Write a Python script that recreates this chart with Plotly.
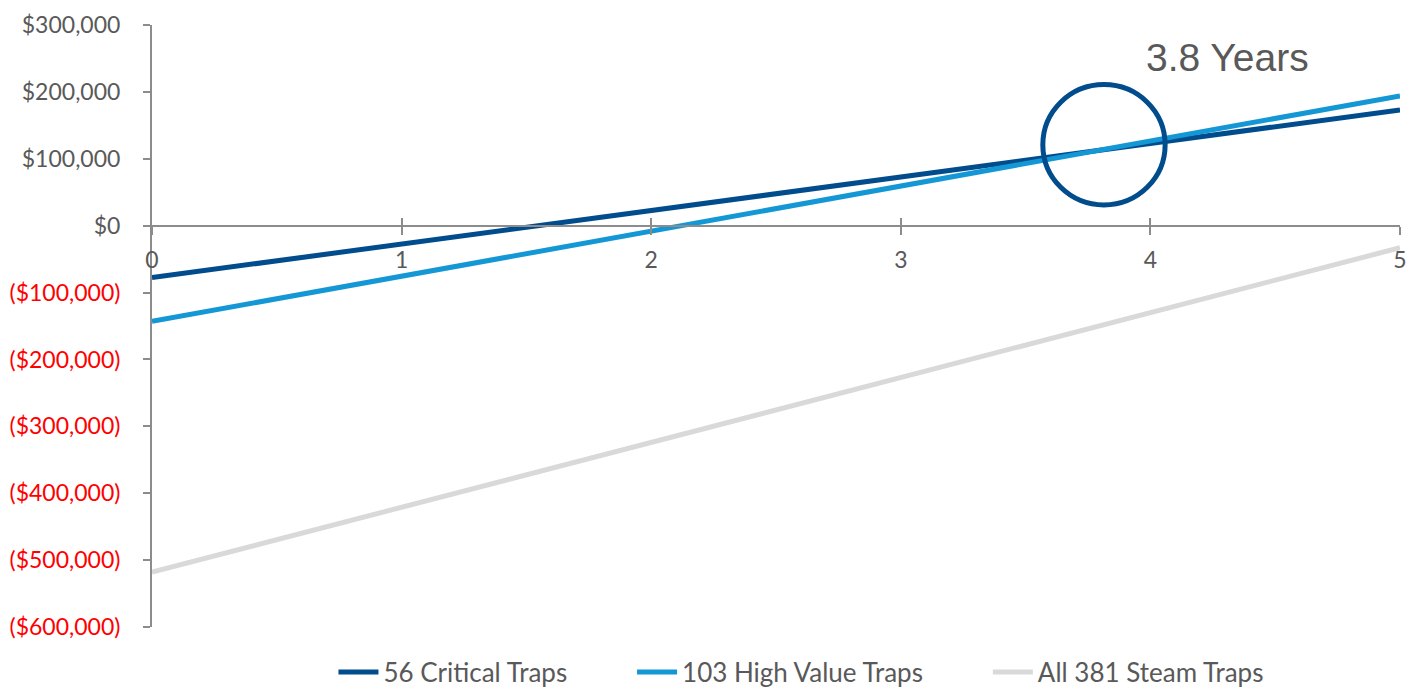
import plotly.graph_objects as go

years = [0, 1, 2, 3, 4, 5]
critical = [-77600, -27500, 22700, 72800, 123000, 173000]
high_value = [-143000, -75600, -8200, 59200, 126600, 194000]
all_traps = [-518000, -421000, -324000, -227000, -130000, -33000]

series_names = ["56 Critical Traps", "103 High Value Traps", "All 381 Steam Traps"]
series_colors = ["#004C8C", "#1497D5", "#D9D9D9"]

y_ticks = [300000, 200000, 100000, 0, -100000, -200000, -300000, -400000, -500000, -600000]
y_labels = ["$300,000", "$200,000", "$100,000", "$0",
            "($100,000)", "($200,000)", "($300,000)", "($400,000)", "($500,000)", "($600,000)"]

payback_years = 3.8
payback_value = 121000
payback_label = "3.8 Years"

FONT = "Lato"
GRAY = "#595959"
AX = "#8C8C8C"

fig = go.Figure()
pad = "&nbsp;" * 9
for i, (name, vals, col) in enumerate(zip(series_names, [critical, high_value, all_traps], series_colors)):
    label = name + (pad if i < len(series_names) - 1 else "")
    fig.add_trace(go.Scatter(x=years, y=vals, mode="lines", name=label,
                             line=dict(color=col, width=5), hoverinfo="skip"))

# invisible trace on overlay axis for upward tick marks
fig.add_trace(go.Scatter(x=[0], y=[0], xaxis="x2", mode="markers",
                         marker=dict(opacity=0), showlegend=False, hoverinfo="skip"))

ticktext = [(f"<span style='color:#FF0000'>{t}</span>" if v < 0 else t) for v, t in zip(y_ticks, y_labels)]

zero_pos = (0 - min(y_ticks)) / (max(y_ticks) - min(y_ticks))

fig.update_layout(
    width=1421, height=698,
    margin=dict(l=152, r=21, t=25, b=71, autoexpand=False),
    plot_bgcolor="white", paper_bgcolor="white",
    font=dict(family=FONT, size=23, color=GRAY),
    xaxis=dict(range=[0, 5], tickvals=years, ticktext=[str(y) for y in years],
               showgrid=False, zeroline=False, showline=True, linecolor=AX, linewidth=2,
               ticks="outside", ticklen=8, tickwidth=2, tickcolor=AX,
               anchor="free", position=zero_pos, ticklabelstandoff=6,
               tickfont=dict(family=FONT, size=23, color=GRAY)),
    xaxis2=dict(range=[0, 5], tickvals=years, overlaying="x", anchor="free", position=zero_pos,
                showgrid=False, zeroline=False, showline=False, showticklabels=False,
                ticks="inside", ticklen=8, tickwidth=2, tickcolor=AX),
    yaxis=dict(range=[min(y_ticks), max(y_ticks)], tickvals=y_ticks, ticktext=ticktext,
               showgrid=False, zeroline=False, showline=True, linecolor=AX, linewidth=2,
               ticks="outside", ticklen=7, tickwidth=2, tickcolor=AX, ticklabelstandoff=18,
               tickfont=dict(family=FONT, size=23, color=GRAY)),
    legend=dict(orientation="h", x=0.52, xanchor="center", y=-0.075, yanchor="middle",
                font=dict(family=FONT, size=26, color=GRAY), itemwidth=40,
                bgcolor="rgba(0,0,0,0)"),
    showlegend=True,
)

rx, ry = 0.245, 90000
fig.add_shape(type="circle", xref="x", yref="y",
              x0=payback_years - rx + 0.014, x1=payback_years + rx + 0.014,
              y0=payback_value - ry, y1=payback_value + ry,
              line=dict(color="#004C8C", width=5))
fig.add_annotation(x=4.307, y=251000, xref="x", yref="y", text=payback_label, showarrow=False,
                   font=dict(family="Liberation Sans", size=39, color=GRAY))

fig.write_html("out.html")
